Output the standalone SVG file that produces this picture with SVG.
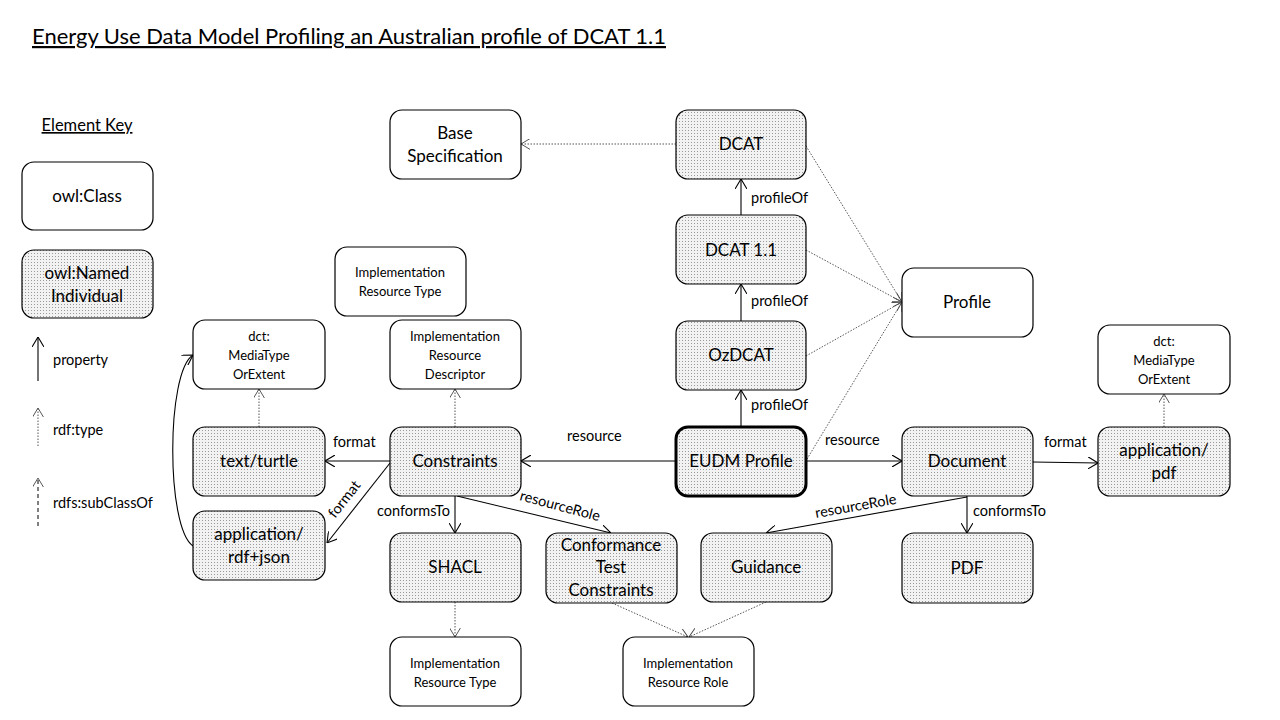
<svg xmlns="http://www.w3.org/2000/svg" width="1280" height="720" viewBox="0 0 1280 720">
<style>
text{font-family:Lato,"Open Sans","Liberation Sans",sans-serif;fill:#000}
.n{font-size:17px;text-anchor:middle}
.s{font-size:13px;text-anchor:middle}
.l{font-size:14.5px}
.box{stroke:#000;stroke-width:1.2}
.w{fill:#fff}
.g{fill:url(#hatch)}
.e{fill:none;stroke:#000;stroke-width:1.1}
.d{fill:none;stroke:#555;stroke-width:1;stroke-dasharray:1.5 1.5}
.k{fill:none;stroke:#000;stroke-width:1;stroke-dasharray:4 3}
</style>
<defs>
<pattern id="hatch" width="3" height="3" patternUnits="userSpaceOnUse">
<rect width="3" height="3" fill="#f2f2f2"/>
<rect x="1" y="1" width="1" height="1" fill="#9a9a9a"/>
</pattern>
<marker id="a" viewBox="0 0 10 12" refX="10" refY="6" markerWidth="10" markerHeight="12" markerUnits="userSpaceOnUse" orient="auto">
<path d="M0,0 L10,6 L0,12" fill="none" stroke="#000" stroke-width="1.1"/>
</marker>
<marker id="ad" viewBox="0 0 10 12" refX="10" refY="6" markerWidth="9" markerHeight="11" markerUnits="userSpaceOnUse" orient="auto">
<path d="M0,0 L10,6 L0,12" fill="none" stroke="#444" stroke-width="1"/>
</marker>
</defs>
<rect width="1280" height="720" fill="#fff"/>
<text x="32" y="44" font-size="22" textLength="634" lengthAdjust="spacingAndGlyphs" text-decoration="underline">Energy Use Data Model Profiling an Australian profile of DCAT 1.1</text>

<g id="key">
<text x="87" y="131" font-size="16.5" text-anchor="middle" text-decoration="underline">Element Key</text>
<rect class="box w" x="22" y="162" width="131" height="68" rx="12"/>
<text class="n" x="87" y="202">owl:Class</text>
<rect class="box g" x="22" y="250" width="131" height="68" rx="12"/>
<text class="n" x="87" y="279">owl:Named</text>
<text class="n" x="87" y="302">Individual</text>
<line class="e" x1="38" y1="381" x2="38" y2="337" marker-end="url(#a)"/>
<text class="l" x="53" y="365">property</text>
<line class="d" x1="38" y1="446" x2="38" y2="408" stroke="#000" marker-end="url(#ad)"/>
<text class="l" x="53" y="435">rdf:type</text>
<line class="k" x1="38" y1="526" x2="38" y2="478" marker-end="url(#ad)"/>
<text class="l" x="53" y="508">rdfs:subClassOf</text>
</g>

<g id="connectors">
<line class="d" x1="676" y1="144" x2="521" y2="144" marker-end="url(#ad)"/>
<line class="e" x1="741" y1="215" x2="741" y2="179" marker-end="url(#a)"/>
<text class="l" x="751" y="203">profileOf</text>
<line class="e" x1="741" y1="321" x2="741" y2="284" marker-end="url(#a)"/>
<text class="l" x="751" y="306">profileOf</text>
<line class="e" x1="741" y1="427" x2="741" y2="390" marker-end="url(#a)"/>
<text class="l" x="751" y="410">profileOf</text>
<line class="d" x1="806" y1="146" x2="902" y2="302" marker-end="url(#ad)"/>
<line class="d" x1="806" y1="250" x2="902" y2="302" marker-end="url(#ad)"/>
<line class="d" x1="806" y1="356" x2="902" y2="302" marker-end="url(#ad)"/>
<line class="d" x1="807" y1="459" x2="902" y2="302" marker-end="url(#ad)"/>
<line class="e" x1="676" y1="461" x2="521" y2="461" marker-end="url(#a)"/>
<text class="l" x="567" y="441">resource</text>
<line class="e" x1="806" y1="461" x2="902" y2="461" marker-end="url(#a)"/>
<text class="l" x="825" y="445">resource</text>
<line class="e" x1="1033" y1="462" x2="1098" y2="463" marker-end="url(#a)"/>
<text class="l" x="1044" y="447">format</text>
<line class="d" x1="1164" y1="427" x2="1164" y2="394" marker-end="url(#ad)"/>
<line class="e" x1="967" y1="496" x2="967" y2="533" marker-end="url(#a)"/>
<text class="l" x="973" y="516">conformsTo</text>
<line class="e" x1="967" y1="497" x2="766" y2="533" marker-end="url(#a)"/>
<text class="l" transform="translate(816,518) rotate(-10)">resourceRole</text>
<line class="e" x1="390" y1="461" x2="325" y2="461" marker-end="url(#a)"/>
<text class="l" x="333" y="447">format</text>
<line class="e" x1="390" y1="463" x2="327" y2="543" marker-end="url(#a)"/>
<text class="l" transform="translate(335,519) rotate(-52)">format</text>
<line class="d" x1="455" y1="427" x2="455" y2="389" marker-end="url(#ad)"/>
<line class="d" x1="259" y1="427" x2="259" y2="389" marker-end="url(#ad)"/>
<line class="e" x1="455" y1="496" x2="455" y2="533" marker-end="url(#a)"/>
<text class="l" x="377" y="516">conformsTo</text>
<line class="e" x1="457" y1="496" x2="611" y2="533" marker-end="url(#a)"/>
<text class="l" transform="translate(519,500) rotate(15)">resourceRole</text>
<line class="d" x1="455" y1="602" x2="455" y2="637" marker-end="url(#ad)"/>
<line class="d" x1="612" y1="603" x2="688" y2="637" marker-end="url(#ad)"/>
<line class="d" x1="766" y1="602" x2="689" y2="637" marker-end="url(#ad)"/>
<path class="e" d="M193,546 C166,528 166,372 193,355" marker-end="url(#a)"/>
</g>

<g id="base-specification"><rect class="box w" x="390" y="110" width="131" height="69" rx="12"/><text class="n" x="455" y="139">Base</text><text class="n" x="455" y="162">Specification</text></g>
<g id="dcat"><rect class="box g" x="676" y="110" width="130" height="69" rx="12"/><text class="n" x="741" y="150">DCAT</text></g>
<g id="dcat11"><rect class="box g" x="676" y="215" width="130" height="69" rx="12"/><text class="n" x="741" y="256">DCAT 1.1</text></g>
<g id="ozdcat"><rect class="box g" x="676" y="321" width="130" height="69" rx="12"/><text class="n" x="741" y="361">OzDCAT</text></g>
<g id="eudm-profile"><rect class="g" x="676" y="427" width="130" height="69" rx="12" stroke="#000" stroke-width="3"/><text class="n" x="741" y="467">EUDM Profile</text></g>
<g id="profile"><rect class="box w" x="902" y="268" width="131" height="69" rx="12"/><text class="n" x="967" y="308">Profile</text></g>
<g id="impl-resource-type-top"><rect class="box w" x="335" y="247" width="131" height="69" rx="12"/><text class="s" x="400" y="277">Implementation</text><text class="s" x="400" y="296">Resource Type</text></g>
<g id="mediatype-left"><rect class="box w" x="193" y="320" width="132" height="69" rx="12"/><text class="s" x="259" y="341">dct:</text><text class="s" x="259" y="360">MediaType</text><text class="s" x="259" y="379">OrExtent</text></g>
<g id="impl-resource-descriptor"><rect class="box w" x="390" y="320" width="131" height="69" rx="12"/><text class="s" x="455" y="341">Implementation</text><text class="s" x="455" y="360">Resource</text><text class="s" x="455" y="379">Descriptor</text></g>
<g id="text-turtle"><rect class="box g" x="193" y="427" width="132" height="69" rx="12"/><text class="n" x="259" y="467">text/turtle</text></g>
<g id="constraints"><rect class="box g" x="390" y="427" width="131" height="69" rx="12"/><text class="n" x="455" y="467">Constraints</text></g>
<g id="application-rdf-json"><rect class="box g" x="193" y="511" width="132" height="69" rx="12"/><text class="n" x="259" y="540">application/</text><text class="n" x="259" y="563">rdf+json</text></g>
<g id="shacl"><rect class="box g" x="390" y="533" width="131" height="69" rx="12"/><text class="n" x="455" y="573">SHACL</text></g>
<g id="conformance-test-constraints"><rect class="box g" x="546" y="533" width="131" height="70" rx="12"/><text class="n" x="611" y="551">Conformance</text><text class="n" x="611" y="573">Test</text><text class="n" x="611" y="596">Constraints</text></g>
<g id="guidance"><rect class="box g" x="701" y="533" width="131" height="69" rx="12"/><text class="n" x="766" y="573">Guidance</text></g>
<g id="pdf"><rect class="box g" x="902" y="533" width="131" height="70" rx="12"/><text class="n" x="967" y="574">PDF</text></g>
<g id="document"><rect class="box g" x="902" y="427" width="131" height="69" rx="12"/><text class="n" x="967" y="467">Document</text></g>
<g id="application-pdf"><rect class="box g" x="1098" y="427" width="132" height="69" rx="12"/><text class="n" x="1164" y="456">application/</text><text class="n" x="1164" y="479">pdf</text></g>
<g id="mediatype-right"><rect class="box w" x="1098" y="325" width="132" height="69" rx="12"/><text class="s" x="1164" y="346">dct:</text><text class="s" x="1164" y="365">MediaType</text><text class="s" x="1164" y="384">OrExtent</text></g>
<g id="impl-resource-type-bottom"><rect class="box w" x="390" y="637" width="131" height="69" rx="12"/><text class="s" x="455" y="668">Implementation</text><text class="s" x="455" y="687">Resource Type</text></g>
<g id="impl-resource-role"><rect class="box w" x="623" y="637" width="131" height="69" rx="12"/><text class="s" x="688" y="668">Implementation</text><text class="s" x="688" y="687">Resource Role</text></g>
</svg>
